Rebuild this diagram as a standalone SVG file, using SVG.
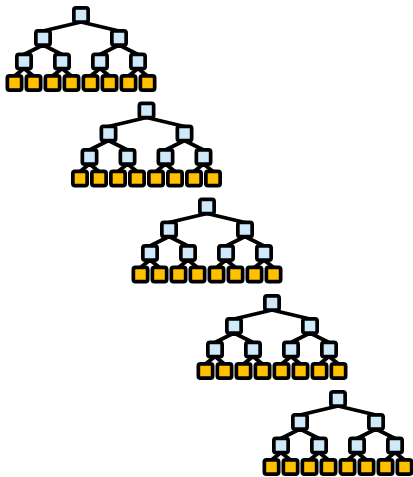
<svg xmlns="http://www.w3.org/2000/svg" width="413" height="477" viewBox="0 0 413 477">
<style>
.edge{fill:none;stroke:#000;stroke-width:3.8;stroke-linecap:round}
.in rect{fill:#cfe9fb;stroke:#000;stroke-width:3.7}
.lf rect{fill:#ffc000;stroke:#000;stroke-width:3.7}
</style>
<rect width="413" height="477" fill="#fff"/>
<defs>
<path id="tedges" class="edge" d="M0,7 L-38,16 M0,7 L38,16 M-38,30 L-57,39.5 M-38,30 L-19,39.5 M38,30 L19,39.5 M38,30 L57,39.5 M-57,53.5 L-66.5,61 M-57,53.5 L-47.5,61 M-19,53.5 L-28.5,61 M-19,53.5 L-9.5,61 M19,53.5 L9.5,61 M19,53.5 L28.5,61 M57,53.5 L47.5,61 M57,53.5 L66.5,61"/>
</defs>
<g id="connectors">
<use href="#tedges" transform="translate(81,15)"/>
<use href="#tedges" transform="translate(146.5,110.5)"/>
<use href="#tedges" transform="translate(207,206.5)"/>
<use href="#tedges" transform="translate(272,303)"/>
<use href="#tedges" transform="translate(338,399)"/>
</g>
<g id="tree1" transform="translate(81,15)">
<g id="t1-n0" class="in"><rect x="-7.15" y="-7.15" width="14.3" height="14.3" rx="2.2"/></g>
<g id="t1-n1" class="in"><rect x="-45.15" y="15.85" width="14.3" height="14.3" rx="2.2"/></g>
<g id="t1-n2" class="in"><rect x="30.85" y="15.85" width="14.3" height="14.3" rx="2.2"/></g>
<g id="t1-n3" class="in"><rect x="-64.15" y="39.35" width="14.3" height="14.3" rx="2.2"/></g>
<g id="t1-n4" class="in"><rect x="-26.15" y="39.35" width="14.3" height="14.3" rx="2.2"/></g>
<g id="t1-n5" class="in"><rect x="11.85" y="39.35" width="14.3" height="14.3" rx="2.2"/></g>
<g id="t1-n6" class="in"><rect x="49.85" y="39.35" width="14.3" height="14.3" rx="2.2"/></g>
<g id="t1-l1" class="lf"><rect x="-73.65" y="60.85" width="14.3" height="14.3" rx="2.2"/></g>
<g id="t1-l2" class="lf"><rect x="-54.65" y="60.85" width="14.3" height="14.3" rx="2.2"/></g>
<g id="t1-l3" class="lf"><rect x="-35.65" y="60.85" width="14.3" height="14.3" rx="2.2"/></g>
<g id="t1-l4" class="lf"><rect x="-16.65" y="60.85" width="14.3" height="14.3" rx="2.2"/></g>
<g id="t1-l5" class="lf"><rect x="2.35" y="60.85" width="14.3" height="14.3" rx="2.2"/></g>
<g id="t1-l6" class="lf"><rect x="21.35" y="60.85" width="14.3" height="14.3" rx="2.2"/></g>
<g id="t1-l7" class="lf"><rect x="40.35" y="60.85" width="14.3" height="14.3" rx="2.2"/></g>
<g id="t1-l8" class="lf"><rect x="59.35" y="60.85" width="14.3" height="14.3" rx="2.2"/></g>
</g>
<g id="tree2" transform="translate(146.5,110.5)">
<g id="t2-n0" class="in"><rect x="-7.15" y="-7.15" width="14.3" height="14.3" rx="2.2"/></g>
<g id="t2-n1" class="in"><rect x="-45.15" y="15.85" width="14.3" height="14.3" rx="2.2"/></g>
<g id="t2-n2" class="in"><rect x="30.85" y="15.85" width="14.3" height="14.3" rx="2.2"/></g>
<g id="t2-n3" class="in"><rect x="-64.15" y="39.35" width="14.3" height="14.3" rx="2.2"/></g>
<g id="t2-n4" class="in"><rect x="-26.15" y="39.35" width="14.3" height="14.3" rx="2.2"/></g>
<g id="t2-n5" class="in"><rect x="11.85" y="39.35" width="14.3" height="14.3" rx="2.2"/></g>
<g id="t2-n6" class="in"><rect x="49.85" y="39.35" width="14.3" height="14.3" rx="2.2"/></g>
<g id="t2-l1" class="lf"><rect x="-73.65" y="60.85" width="14.3" height="14.3" rx="2.2"/></g>
<g id="t2-l2" class="lf"><rect x="-54.65" y="60.85" width="14.3" height="14.3" rx="2.2"/></g>
<g id="t2-l3" class="lf"><rect x="-35.65" y="60.85" width="14.3" height="14.3" rx="2.2"/></g>
<g id="t2-l4" class="lf"><rect x="-16.65" y="60.85" width="14.3" height="14.3" rx="2.2"/></g>
<g id="t2-l5" class="lf"><rect x="2.35" y="60.85" width="14.3" height="14.3" rx="2.2"/></g>
<g id="t2-l6" class="lf"><rect x="21.35" y="60.85" width="14.3" height="14.3" rx="2.2"/></g>
<g id="t2-l7" class="lf"><rect x="40.35" y="60.85" width="14.3" height="14.3" rx="2.2"/></g>
<g id="t2-l8" class="lf"><rect x="59.35" y="60.85" width="14.3" height="14.3" rx="2.2"/></g>
</g>
<g id="tree3" transform="translate(207,206.5)">
<g id="t3-n0" class="in"><rect x="-7.15" y="-7.15" width="14.3" height="14.3" rx="2.2"/></g>
<g id="t3-n1" class="in"><rect x="-45.15" y="15.85" width="14.3" height="14.3" rx="2.2"/></g>
<g id="t3-n2" class="in"><rect x="30.85" y="15.85" width="14.3" height="14.3" rx="2.2"/></g>
<g id="t3-n3" class="in"><rect x="-64.15" y="39.35" width="14.3" height="14.3" rx="2.2"/></g>
<g id="t3-n4" class="in"><rect x="-26.15" y="39.35" width="14.3" height="14.3" rx="2.2"/></g>
<g id="t3-n5" class="in"><rect x="11.85" y="39.35" width="14.3" height="14.3" rx="2.2"/></g>
<g id="t3-n6" class="in"><rect x="49.85" y="39.35" width="14.3" height="14.3" rx="2.2"/></g>
<g id="t3-l1" class="lf"><rect x="-73.65" y="60.85" width="14.3" height="14.3" rx="2.2"/></g>
<g id="t3-l2" class="lf"><rect x="-54.65" y="60.85" width="14.3" height="14.3" rx="2.2"/></g>
<g id="t3-l3" class="lf"><rect x="-35.65" y="60.85" width="14.3" height="14.3" rx="2.2"/></g>
<g id="t3-l4" class="lf"><rect x="-16.65" y="60.85" width="14.3" height="14.3" rx="2.2"/></g>
<g id="t3-l5" class="lf"><rect x="2.35" y="60.85" width="14.3" height="14.3" rx="2.2"/></g>
<g id="t3-l6" class="lf"><rect x="21.35" y="60.85" width="14.3" height="14.3" rx="2.2"/></g>
<g id="t3-l7" class="lf"><rect x="40.35" y="60.85" width="14.3" height="14.3" rx="2.2"/></g>
<g id="t3-l8" class="lf"><rect x="59.35" y="60.85" width="14.3" height="14.3" rx="2.2"/></g>
</g>
<g id="tree4" transform="translate(272,303)">
<g id="t4-n0" class="in"><rect x="-7.15" y="-7.15" width="14.3" height="14.3" rx="2.2"/></g>
<g id="t4-n1" class="in"><rect x="-45.15" y="15.85" width="14.3" height="14.3" rx="2.2"/></g>
<g id="t4-n2" class="in"><rect x="30.85" y="15.85" width="14.3" height="14.3" rx="2.2"/></g>
<g id="t4-n3" class="in"><rect x="-64.15" y="39.35" width="14.3" height="14.3" rx="2.2"/></g>
<g id="t4-n4" class="in"><rect x="-26.15" y="39.35" width="14.3" height="14.3" rx="2.2"/></g>
<g id="t4-n5" class="in"><rect x="11.85" y="39.35" width="14.3" height="14.3" rx="2.2"/></g>
<g id="t4-n6" class="in"><rect x="49.85" y="39.35" width="14.3" height="14.3" rx="2.2"/></g>
<g id="t4-l1" class="lf"><rect x="-73.65" y="60.85" width="14.3" height="14.3" rx="2.2"/></g>
<g id="t4-l2" class="lf"><rect x="-54.65" y="60.85" width="14.3" height="14.3" rx="2.2"/></g>
<g id="t4-l3" class="lf"><rect x="-35.65" y="60.85" width="14.3" height="14.3" rx="2.2"/></g>
<g id="t4-l4" class="lf"><rect x="-16.65" y="60.85" width="14.3" height="14.3" rx="2.2"/></g>
<g id="t4-l5" class="lf"><rect x="2.35" y="60.85" width="14.3" height="14.3" rx="2.2"/></g>
<g id="t4-l6" class="lf"><rect x="21.35" y="60.85" width="14.3" height="14.3" rx="2.2"/></g>
<g id="t4-l7" class="lf"><rect x="40.35" y="60.85" width="14.3" height="14.3" rx="2.2"/></g>
<g id="t4-l8" class="lf"><rect x="59.35" y="60.85" width="14.3" height="14.3" rx="2.2"/></g>
</g>
<g id="tree5" transform="translate(338,399)">
<g id="t5-n0" class="in"><rect x="-7.15" y="-7.15" width="14.3" height="14.3" rx="2.2"/></g>
<g id="t5-n1" class="in"><rect x="-45.15" y="15.85" width="14.3" height="14.3" rx="2.2"/></g>
<g id="t5-n2" class="in"><rect x="30.85" y="15.85" width="14.3" height="14.3" rx="2.2"/></g>
<g id="t5-n3" class="in"><rect x="-64.15" y="39.35" width="14.3" height="14.3" rx="2.2"/></g>
<g id="t5-n4" class="in"><rect x="-26.15" y="39.35" width="14.3" height="14.3" rx="2.2"/></g>
<g id="t5-n5" class="in"><rect x="11.85" y="39.35" width="14.3" height="14.3" rx="2.2"/></g>
<g id="t5-n6" class="in"><rect x="49.85" y="39.35" width="14.3" height="14.3" rx="2.2"/></g>
<g id="t5-l1" class="lf"><rect x="-73.65" y="60.85" width="14.3" height="14.3" rx="2.2"/></g>
<g id="t5-l2" class="lf"><rect x="-54.65" y="60.85" width="14.3" height="14.3" rx="2.2"/></g>
<g id="t5-l3" class="lf"><rect x="-35.65" y="60.85" width="14.3" height="14.3" rx="2.2"/></g>
<g id="t5-l4" class="lf"><rect x="-16.65" y="60.85" width="14.3" height="14.3" rx="2.2"/></g>
<g id="t5-l5" class="lf"><rect x="2.35" y="60.85" width="14.3" height="14.3" rx="2.2"/></g>
<g id="t5-l6" class="lf"><rect x="21.35" y="60.85" width="14.3" height="14.3" rx="2.2"/></g>
<g id="t5-l7" class="lf"><rect x="40.35" y="60.85" width="14.3" height="14.3" rx="2.2"/></g>
<g id="t5-l8" class="lf"><rect x="59.35" y="60.85" width="14.3" height="14.3" rx="2.2"/></g>
</g>
</svg>
